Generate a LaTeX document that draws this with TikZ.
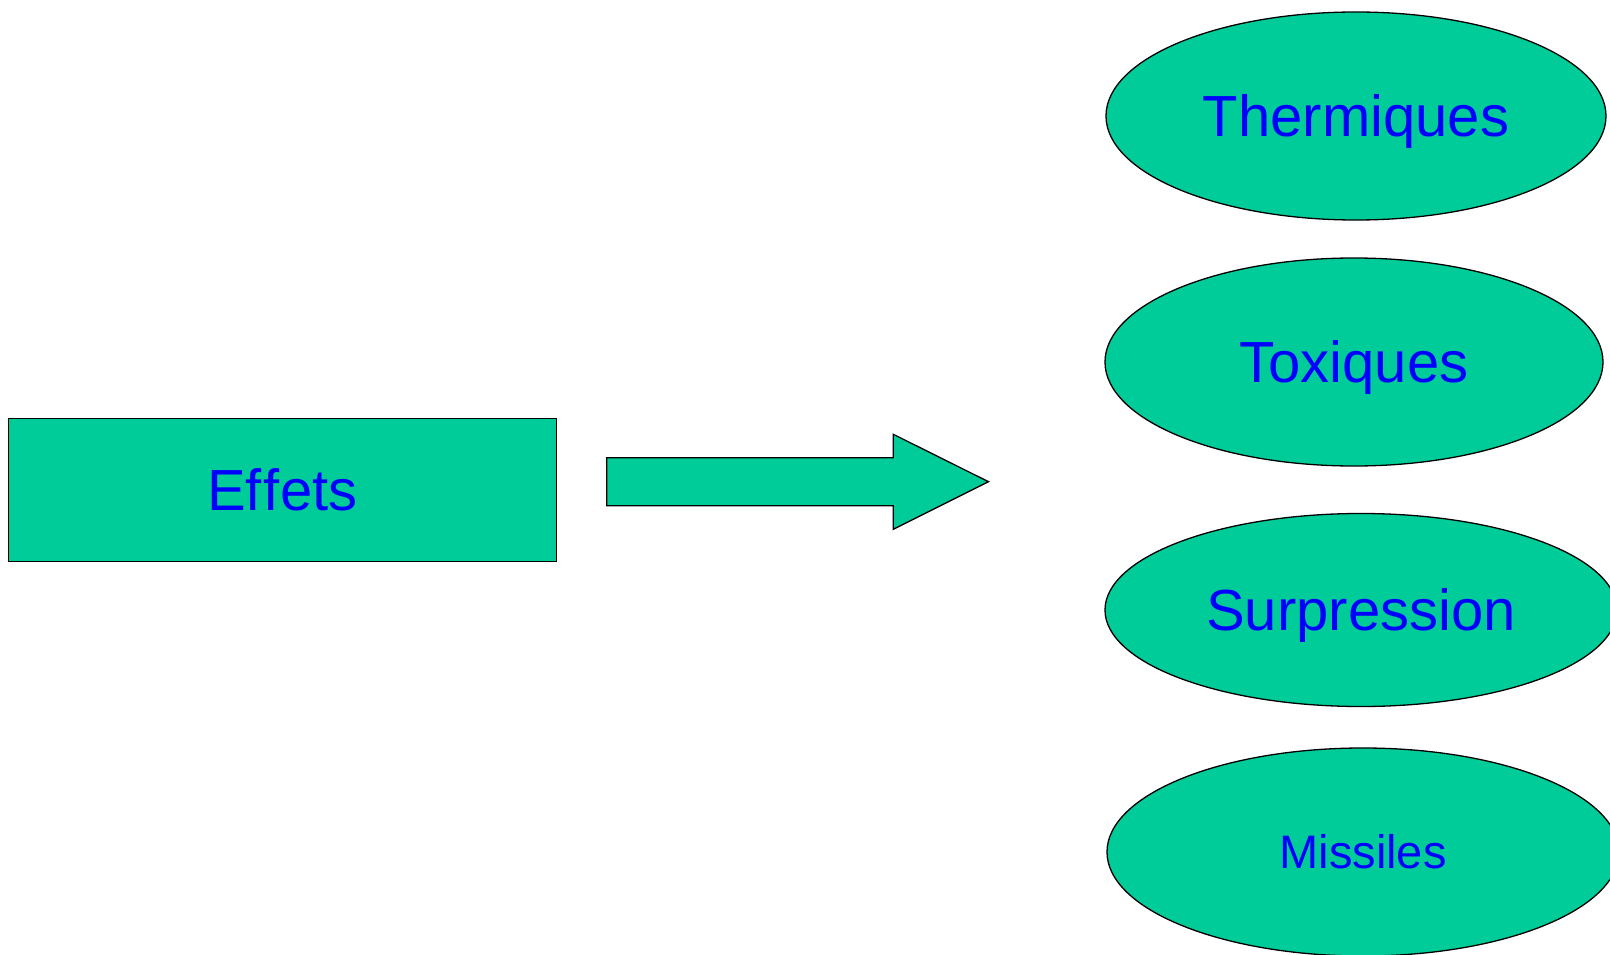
\documentclass[tikz,border=0pt]{standalone}
\usepackage{fontspec}
\setmainfont[Ligatures=NoCommon]{Liberation Sans}
\usetikzlibrary{shapes.geometric}
\definecolor{boxgreen}{RGB}{0,204,153}
\definecolor{txtblue}{RGB}{0,0,255}
\begin{document}
\begin{tikzpicture}[x=1pt,y=-1pt,
  shapefill/.style={fill=boxgreen,draw=black,line width=1.3pt},
  oval/.style={shapefill,ellipse,inner sep=0pt,text=txtblue,font=\fontsize{58}{60}\selectfont,text height=41.8pt,text depth=0pt},
  rectbox/.style={shapefill,rectangle,inner sep=0pt,text=txtblue,font=\fontsize{58}{60}\selectfont,line width=1.6pt,text height=41.8pt,text depth=0pt}]
\useasboundingbox (0,0) rectangle (1610,955);
\clip (0,0) rectangle (1610,955);
\node[rectbox,minimum width=548pt,minimum height=143pt] (effets) at (282.3,489.8) {Ef\kern2pt fets};
\node[oval,minimum width=500pt,minimum height=208pt] (therm) at (1356,116) {Thermiques};
\node[oval,minimum width=498pt,minimum height=208pt] (tox) at (1354,362) {Toxiques};
\node[oval,minimum width=512pt,minimum height=193pt] (surp) at (1361,610) {Surpression};
\node[oval,minimum width=512pt,minimum height=208pt,font=\fontsize{47}{50}\selectfont,text height=33.8pt] (miss) at (1363,852) {Missiles};
\draw[shapefill,line join=miter] (606.7,457.7) -- (893.3,457.7) -- (893.3,434.3) -- (988.5,481.7) -- (893.3,529.3) -- (893.3,505.7) -- (606.7,505.7) -- cycle;
\end{tikzpicture}
\end{document}
